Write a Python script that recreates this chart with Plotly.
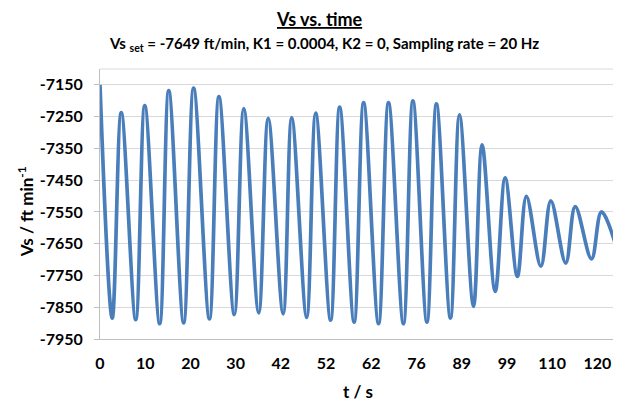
import plotly.graph_objects as go

# x-axis category labels (time, s) shown every 100 samples
tick_labels = ["0", "10", "20", "30", "42", "52", "62", "76", "89", "99", "110", "120"]

# turning points of the Vs trace (sample index, ft/min)
sample_idx = [0, 27, 47, 79, 99, 132, 152, 185, 207, 242, 263, 297, 318, 351, 372,
              405, 424, 457, 477, 510, 530, 562, 583, 616, 638, 671, 692, 723, 744,
              775, 795, 826, 845, 874, 896, 923, 943, 975, 997, 1030, 1051, 1087,
              1109, 1148]
vs = [-7150, -7884, -7237, -7889, -7215, -7902, -7168, -7899, -7160, -7887, -7187,
      -7873, -7225, -7868, -7255, -7871, -7253, -7882, -7239, -7891, -7220, -7897,
      -7206, -7902, -7206, -7902, -7200, -7897, -7210, -7884, -7244, -7847, -7339,
      -7800, -7443, -7753, -7501, -7721, -7515, -7711, -7533, -7698, -7550, -7690]

y_ticks = list(range(-7950, -7149, 100))

FONT = "Lato"
fig = go.Figure()
fig.add_trace(go.Scatter(x=sample_idx, y=vs, mode="lines",
                         line=dict(color="#4A7EBB", width=3.7, shape="spline", smoothing=1.0),
                         hoverinfo="skip"))


def note(text, x, y, size, angle=0):
    return dict(text=text, xref="paper", yref="paper", x=x, y=y, showarrow=False,
                xanchor="center", yanchor="middle", textangle=angle,
                font=dict(size=size, family=FONT))


# page body has an 8px margin, so the figure is 8px smaller than the window
fig.update_layout(
    width=613, height=395,
    margin=dict(l=92, r=1, t=61, b=64, autoexpand=False),
    paper_bgcolor="white", plot_bgcolor="white",
    showlegend=False,
    font=dict(family=FONT, color="black"),
    xaxis=dict(range=[0, 1150], tickmode="array", automargin=False,
               tickvals=[i * 100 for i in range(len(tick_labels))],
               ticktext=["<b>%s</b>" % t for t in tick_labels],
               showgrid=False, zeroline=False,
               showline=True, linecolor="#BFBFBF", linewidth=1,
               ticks="", tickfont=dict(size=16, family=FONT),
               ticklabelstandoff=10),
    yaxis=dict(range=[-7950, -7100], tickmode="array", tickvals=y_ticks, automargin=False,
               ticktext=["<b>%d</b>" % v for v in y_ticks],
               showgrid=True, gridcolor="#D9D9D9", gridwidth=1,
               zeroline=False, showline=True, linecolor="#BFBFBF", linewidth=1,
               mirror=False, ticks="outside", ticklen=5, tickcolor="#BFBFBF",
               tickfont=dict(size=16, family=FONT), ticklabelstandoff=8),
    shapes=[dict(type="line", xref="paper", yref="paper", x0=0, x1=1, y0=1, y1=1,
                 line=dict(color="#D9D9D9", width=1))],
    annotations=[
        note("<b><u>Vs vs. time</u></b>", 0.423, 1.185, 18),
        note("<b>Vs <sub>set</sub> = -7649 ft/min, K1 = 0.0004, K2 = 0, Sampling rate = 20 Hz</b>",
             0.431, 1.094, 15),
        note("<b>Vs / ft min<sup>-1</sup></b>", -0.144, 0.47, 17, -90),
        note("<b>t / s</b>", 0.496, -0.196, 17),
    ],
)

fig.write_html("out.html")
